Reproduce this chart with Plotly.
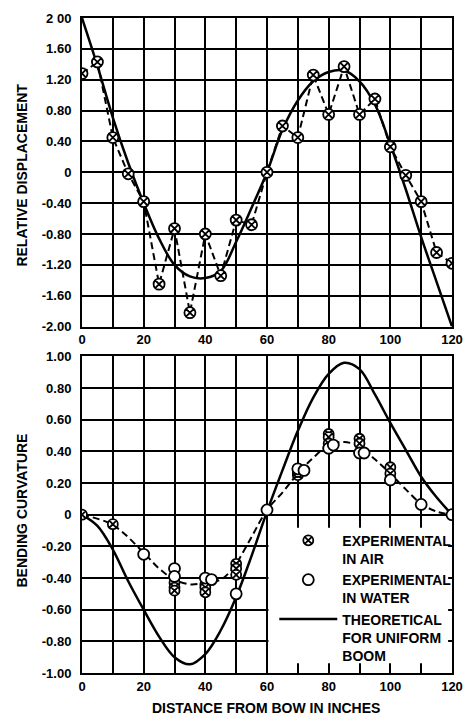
import plotly.graph_objects as go

# ---------------- data ----------------
# top panel: relative displacement
x_exp_top = [0, 5, 10, 15, 20, 25, 30, 35, 40, 45, 50, 55, 60, 65, 70, 75, 80, 85, 90, 95, 100, 105, 110, 115, 120]
y_exp_top = [1.28, 1.43, 0.45, -0.02, -0.38, -1.45, -0.73, -1.82, -0.80, -1.34, -0.62, -0.68, 0.0,
             0.60, 0.45, 1.26, 0.75, 1.37, 0.75, 0.95, 0.33, -0.04, -0.38, -1.04, -1.18]
x_theo_top = [0, 5, 10, 15, 20, 25, 30, 35, 40, 45, 50, 55, 60, 65, 70, 75, 80, 85, 90, 95, 100, 105, 110, 115, 120]
y_theo_top = [2.00, 1.38, 0.71, 0.12, -0.40, -0.86, -1.20, -1.35, -1.37, -1.28, -0.90, -0.46, 0.0,
              0.55, 0.93, 1.18, 1.30, 1.32, 1.18, 0.88, 0.36, -0.22, -0.84, -1.42, -2.00]

# bottom panel: bending curvature
x_air = [0, 10, 30, 30, 30, 40, 40, 40, 50, 50, 50, 70, 70, 80, 80, 80, 90, 90, 100, 100]
y_air = [0.0, -0.06, -0.43, -0.46, -0.48, -0.44, -0.46, -0.49, -0.31, -0.34, -0.38,
         0.25, 0.27, 0.51, 0.49, 0.45, 0.48, 0.45, 0.30, 0.26]
x_water = [20, 30, 30, 40, 42, 50, 60, 70, 72, 80, 81.5, 90, 91.5, 100, 110, 120]
y_water = [-0.25, -0.34, -0.39, -0.40, -0.41, -0.50, 0.03, 0.29, 0.28, 0.42, 0.44, 0.39, 0.39, 0.22, 0.065, 0.0]
x_fit_bot = [0, 10, 20, 25, 30, 35, 40, 45, 48, 50, 55, 60, 65, 70, 75, 80, 85, 90, 95, 100, 105, 110, 115, 120]
y_fit_bot = [0.0, -0.065, -0.24, -0.34, -0.41, -0.44, -0.43, -0.41, -0.36, -0.31, -0.14, 0.03,
             0.14, 0.26, 0.36, 0.44, 0.46, 0.43, 0.35, 0.26, 0.16, 0.07, 0.02, 0.0]
x_theo_bot = [0, 5, 10, 15, 20, 25, 30, 35, 40, 45, 50, 55, 60, 65, 70, 75, 80, 85, 90, 95, 100, 105, 110, 115, 120]
y_theo_bot = [0.0, -0.07, -0.22, -0.42, -0.60, -0.77, -0.90, -0.945, -0.88, -0.73, -0.52, -0.26, 0.02,
              0.28, 0.53, 0.74, 0.89, 0.96, 0.92, 0.76, 0.58, 0.41, 0.24, 0.11, 0.0]

# tick labels
x_tickvals = [0, 20, 40, 60, 80, 100, 120]
x_ticktext = ["0", "20", "40", "60", "80", "100", "120"]
y_top_tickvals = [2.0, 1.6, 1.2, 0.8, 0.4, 0, -0.4, -0.8, -1.2, -1.6, -2.0]
y_top_ticktext = ["2 00", "1.60", "1.20", "0.80", "0.40", "0", "-0.40", "-0.80", "-1.20", "-1.60", "-2.00"]
y_bot_tickvals = [1.0, 0.8, 0.6, 0.4, 0.2, 0, -0.2, -0.4, -0.6, -0.8, -1.0]
y_bot_ticktext = ["1.00", "0.80", "0.60", "0.40", "0.20", "0", "-0.20", "-0.40", "-0.60", "-0.80", "-1.00"]

legend_air = "EXPERIMENTAL<br>IN AIR"
legend_water = "EXPERIMENTAL<br>IN WATER"
legend_theo = "THEORETICAL<br>FOR UNIFORM<br>BOOM"

# ---------------- figure ----------------
FONT = "Liberation Sans, Arial, sans-serif"
fig = go.Figure()

DASH = "7px,4px"

# top panel
fig.add_trace(go.Scatter(x=x_theo_top, y=y_theo_top, mode="lines", line=dict(color="black", width=2.5, shape="spline"),
                         showlegend=False, xaxis="x", yaxis="y"))
fig.add_trace(go.Scatter(x=x_exp_top, y=y_exp_top, mode="lines+markers",
                         line=dict(color="black", width=2, dash=DASH),
                         marker=dict(symbol="circle-x", size=11, color="white", line=dict(color="black", width=1.8)),
                         showlegend=False, xaxis="x", yaxis="y"))

# bottom panel
fig.add_trace(go.Scatter(x=x_theo_bot, y=y_theo_bot, mode="lines", line=dict(color="black", width=2.5, shape="spline"),
                         name=legend_theo, legendrank=3, xaxis="x2", yaxis="y2"))
fig.add_trace(go.Scatter(x=x_fit_bot, y=y_fit_bot, mode="lines",
                         line=dict(color="black", width=2, dash=DASH, shape="spline"),
                         showlegend=False, xaxis="x2", yaxis="y2"))
fig.add_trace(go.Scatter(x=x_air, y=y_air, mode="markers",
                         marker=dict(symbol="circle-x", size=10, color="white", line=dict(color="black", width=1.8)),
                         name=legend_air, legendrank=1, xaxis="x2", yaxis="y2"))
fig.add_trace(go.Scatter(x=x_water, y=y_water, mode="markers",
                         marker=dict(symbol="circle", size=11, color="white", line=dict(color="black", width=1.8)),
                         name=legend_water, legendrank=2, xaxis="x2", yaxis="y2"))

tickfont = dict(family=FONT, size=13, color="black", weight="bold")
GRIDW = 1.5
common_x = dict(range=[0, 120], tickvals=x_tickvals, ticktext=x_ticktext, showgrid=True, gridcolor="black",
                gridwidth=GRIDW, showline=True, linecolor="black", linewidth=2, mirror=True, ticks="",
                zeroline=False, tickfont=tickfont,
                minor=dict(tickvals=[10, 30, 50, 70, 90, 110], showgrid=True, gridcolor="black", gridwidth=GRIDW))
common_y = dict(showgrid=True, gridcolor="black", gridwidth=GRIDW, showline=True, linecolor="black", linewidth=2,
                mirror=True, ticks="", zeroline=False, tickfont=tickfont, ticklabelstandoff=6)

fig.update_layout(
    width=474, height=718,
    margin=dict(l=82, r=11, t=15, b=45),
    paper_bgcolor="white", plot_bgcolor="white",
    xaxis=dict(domain=[0, 1], anchor="y", **common_x),
    yaxis=dict(domain=[0.5289, 1], anchor="x", range=[-2, 2], tickvals=y_top_tickvals, ticktext=y_top_ticktext, **common_y),
    xaxis2=dict(domain=[0, 1], anchor="y2", **common_x),
    yaxis2=dict(domain=[0, 0.4833], anchor="x2", range=[-1, 1], tickvals=y_bot_tickvals, ticktext=y_bot_ticktext, **common_y),
    showlegend=True,
    legend=dict(x=0.5197, y=0.2264, xanchor="left", yanchor="top", bgcolor="rgba(0,0,0,0)", borderwidth=0,
                font=dict(family=FONT, size=14, color="black", weight="bold"), itemwidth=58, valign="top",
                traceorder="normal"),
    shapes=[dict(type="rect", xref="x2 domain", yref="y2 domain", x0=0.504, x1=0.9895, y0=0.031, y1=0.459,
                 fillcolor="white", line=dict(width=0), layer="above")],
    annotations=[
        dict(text="RELATIVE DISPLACEMENT", xref="paper", yref="paper", x=-0.1627, y=0.7606, textangle=-90,
             showarrow=False, xanchor="center", yanchor="middle",
             font=dict(family=FONT, size=14, color="black", weight="bold")),
        dict(text="BENDING CURVATURE", xref="paper", yref="paper", x=-0.1627, y=0.2477, textangle=-90,
             showarrow=False, xanchor="center", yanchor="middle",
             font=dict(family=FONT, size=14, color="black", weight="bold")),
        dict(text="DISTANCE FROM BOW IN INCHES", xref="paper", yref="paper", x=0.496, y=-0.0532,
             showarrow=False, xanchor="center", yanchor="middle",
             font=dict(family=FONT, size=14, color="black", weight="bold")),
    ],
)

fig.write_html("out.html")
